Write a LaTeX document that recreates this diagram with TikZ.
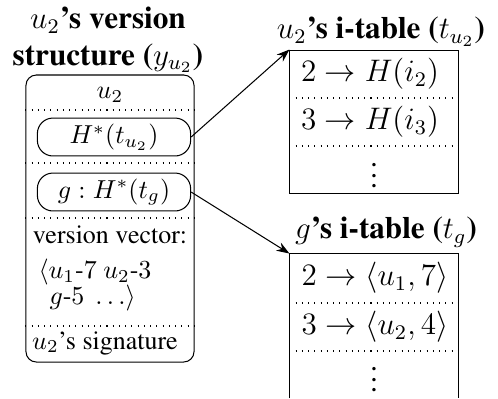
\documentclass[tikz,border=0pt]{standalone}
\usepackage[T1]{fontenc}
\renewcommand{\rmdefault}{ptm}
\usetikzlibrary{positioning}
\usetikzlibrary{arrows.meta}

\tikzset{
  outerbox/.style={draw,rectangle,rounded corners=4pt,minimum width=64.7pt,minimum height=110.5pt,inner sep=0pt},
  hashbox/.style={draw,rectangle,rounded corners=6pt,minimum width=59pt,minimum height=14.6pt,inner sep=0pt},
  tablebox/.style={rectangle,minimum width=64.7pt,minimum height=55.4pt,inner sep=0pt},
  rowline/.style={dotted},
  heading/.style={font=\large\bfseries,align=center,inner sep=0pt},
  entry/.style={font=\large,inner sep=0pt},
  ptr/.style={-{Stealth[length=5pt,width=3.6pt]}},
}

\begin{document}
\begin{tikzpicture}[x=0.385pt,y=-0.385pt]
        \useasboundingbox (0,0) rectangle (498,398);
        % version structure
        \node[heading] (ystitle) at (108,40) {$u_2$'s version\\structure ($y_{u_2}$)};
        \node[outerbox] (ys) at (110,218.5) {};
        \node (uname) at (110,95) {$u_2$};
        \draw[rowline] (ys.west |- 0,110) -- (ys.east |- 0,110);
        \node[hashbox] (hu) at (114,137) {$H^*(t_{u_2})$};
        \draw[rowline] (ys.west |- 0,163) -- (ys.east |- 0,163);
        \node[hashbox] (hg) at (114,192) {$g : H^*(t_g)$};
        \draw[rowline] (ys.west |- 0,218) -- (ys.east |- 0,218);
        \node (vv) at (110,235) {version vector:};
        \node[anchor=west,inner sep=0pt] (vva) at (38,272) {$\langle u_1$-$7\ u_2$-$3$};
        \node[anchor=west,inner sep=0pt] (vvb) at (49,298) {$g$-$5\ \ldots\rangle$};
        \draw[rowline] (ys.west |- 0,326) -- (ys.east |- 0,326);
        \node (sig) at (105,343) {$u_2$'s signature};
        % i-table of u2
        \node[heading] (tutitle) at (381,32) {$u_2$'s i-table ($t_{u_2}$)};
        \node[tablebox,draw] (tu) at (374,122) {};
        \node[entry] (tu2) at (370,74) {$2 \rightarrow H(i_2)$};
        \draw[rowline] (tu.west |- 0,98) -- (tu.east |- 0,98);
        \node[entry] (tu3) at (370,122) {$3 \rightarrow H(i_3)$};
        \draw[rowline] (tu.west |- 0,146) -- (tu.east |- 0,146);
        \node[entry] (tudots) at (374,168) {$\vdots$};
        % i-table of g
        \node[heading] (tgtitle) at (386,232) {$g$'s i-table ($t_g$)};
        \node[tablebox] (tg) at (374,326) {};
        \draw (tg.south west) -- (tg.north west) -- (tg.north east) -- (tg.south east);
        \node[entry] (tg2) at (375,278) {$2 \rightarrow \langle u_1, 7\rangle$};
        \draw[rowline] (tg.west |- 0,303) -- (tg.east |- 0,303);
        \node[entry] (tg3) at (375,327) {$3 \rightarrow \langle u_2, 4\rangle$};
        \draw[rowline] (tg.west |- 0,351) -- (tg.east |- 0,351);
        \node[entry] (tgdots) at (374,372) {$\vdots$};
        % pointers
        \draw[ptr] (hu.east) -- (tu.north west);
        \draw[ptr] (hg.east) -- (tg.north west);
\end{tikzpicture}
\end{document}
